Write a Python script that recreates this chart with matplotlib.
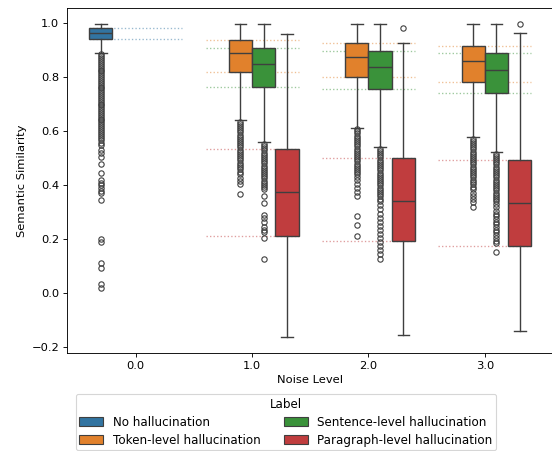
import matplotlib
matplotlib.use("Agg")
import matplotlib.pyplot as plt
from matplotlib.patches import Patch

noise_levels = ["0.0", "1.0", "2.0", "3.0"]
hue_labels = ["No hallucination", "Token-level hallucination",
              "Sentence-level hallucination", "Paragraph-level hallucination"]
hue_colors = ["#3274a1", "#e1812c", "#3a923a", "#c03d3e"]

# one entry per drawn box
box_group = [0, 1, 1, 1, 2, 2, 2, 3, 3, 3]
box_hue = [0, 1, 2, 3, 1, 2, 3, 1, 2, 3]
whislo = [0.889, 0.641, 0.560, -0.164, 0.614, 0.541, -0.155, 0.579, 0.523, -0.139]
q1 = [0.941, 0.818, 0.766, 0.210, 0.800, 0.755, 0.193, 0.781, 0.741, 0.175]
med = [0.963, 0.890, 0.848, 0.376, 0.874, 0.837, 0.343, 0.859, 0.827, 0.335]
q3 = [0.982, 0.938, 0.907, 0.533, 0.927, 0.899, 0.502, 0.917, 0.890, 0.492]
whishi = [0.998, 0.998, 0.998, 0.961, 0.998, 0.998, 0.927, 0.998, 0.998, 0.965]

fliers_none_0 = [0.885, 0.878, 0.871, 0.864, 0.857, 0.850, 0.843, 0.836, 0.829, 0.822,
                 0.815, 0.808, 0.801, 0.794, 0.787, 0.780, 0.773, 0.766, 0.759, 0.752,
                 0.745, 0.738, 0.731, 0.724, 0.717, 0.710, 0.703, 0.696, 0.689, 0.682,
                 0.675, 0.668, 0.661, 0.654, 0.647, 0.640, 0.633, 0.626, 0.619, 0.612,
                 0.605, 0.598, 0.590, 0.583, 0.575, 0.568, 0.558, 0.548, 0.530, 0.520,
                 0.505, 0.480, 0.447, 0.420, 0.410, 0.400, 0.390, 0.380, 0.372, 0.345,
                 0.200, 0.190, 0.112, 0.092, 0.033, 0.018]
fliers_token_1 = [0.636, 0.628, 0.620, 0.612, 0.604, 0.596, 0.588, 0.580, 0.572, 0.564,
                  0.556, 0.548, 0.540, 0.532, 0.524, 0.516, 0.508, 0.500, 0.492, 0.484,
                  0.476, 0.468, 0.460, 0.450, 0.440, 0.428, 0.415, 0.405, 0.368]
fliers_sent_1 = [0.553, 0.545, 0.537, 0.529, 0.521, 0.513, 0.505, 0.497, 0.489, 0.481,
                 0.473, 0.465, 0.457, 0.449, 0.441, 0.433, 0.425, 0.417, 0.409, 0.401,
                 0.393, 0.385, 0.360, 0.335, 0.290, 0.280, 0.265, 0.245, 0.235, 0.225,
                 0.205, 0.128]
fliers_para_1 = []
fliers_token_2 = [0.608, 0.600, 0.592, 0.584, 0.576, 0.568, 0.560, 0.552, 0.544, 0.536,
                  0.528, 0.520, 0.512, 0.504, 0.496, 0.488, 0.480, 0.472, 0.464, 0.456,
                  0.448, 0.440, 0.430, 0.420, 0.405, 0.390, 0.375, 0.360, 0.287, 0.251,
                  0.213]
fliers_sent_2 = [0.535, 0.527, 0.519, 0.511, 0.503, 0.495, 0.487, 0.479, 0.471, 0.463,
                 0.455, 0.447, 0.439, 0.431, 0.423, 0.415, 0.407, 0.399, 0.391, 0.383,
                 0.375, 0.367, 0.359, 0.350, 0.340, 0.325, 0.310, 0.295, 0.280, 0.265,
                 0.250, 0.235, 0.220, 0.205, 0.190, 0.175, 0.160, 0.145, 0.126]
fliers_para_2 = [0.982]
fliers_token_3 = [0.573, 0.565, 0.557, 0.549, 0.541, 0.533, 0.525, 0.517, 0.509, 0.501,
                  0.493, 0.485, 0.477, 0.469, 0.461, 0.453, 0.445, 0.437, 0.429, 0.421,
                  0.413, 0.405, 0.395, 0.385, 0.372, 0.360, 0.348, 0.336, 0.320]
fliers_sent_3 = [0.517, 0.509, 0.501, 0.493, 0.485, 0.477, 0.469, 0.461, 0.453, 0.445,
                 0.437, 0.429, 0.421, 0.413, 0.405, 0.397, 0.389, 0.381, 0.373, 0.365,
                 0.357, 0.349, 0.341, 0.330, 0.318, 0.305, 0.295, 0.285, 0.275, 0.265,
                 0.255, 0.245, 0.235, 0.225, 0.215, 0.205, 0.195, 0.186, 0.151]
fliers_para_3 = [0.999]
fliers = [fliers_none_0, fliers_token_1, fliers_sent_1, fliers_para_1,
          fliers_token_2, fliers_sent_2, fliers_para_2,
          fliers_token_3, fliers_sent_3, fliers_para_3]

hue_offsets = [-0.3, -0.1, 0.1, 0.3]
box_width = 0.2
line_color = "#3f3f3f"

plt.rcParams["font.size"] = 10.3

fig = plt.figure(figsize=(6.9, 5.6375), dpi=80)
ax = fig.add_axes([67 / 552, 1 - 353 / 451, (553.5 - 67) / 552, (353 - 8) / 451])

for i in range(len(box_group)):
    g = box_group[i]
    h = box_hue[i]
    col = hue_colors[h]
    pos = g + hue_offsets[h]
    stat = dict(whislo=whislo[i], q1=q1[i], med=med[i], q3=q3[i],
                whishi=whishi[i], fliers=fliers[i])
    ax.bxp([stat], positions=[pos], widths=box_width, patch_artist=True,
           manage_ticks=False, capwidths=box_width / 2,
           boxprops=dict(facecolor=col, edgecolor=line_color, linewidth=1.25),
           medianprops=dict(color=line_color, linewidth=1.25),
           whiskerprops=dict(color=line_color, linewidth=1.25),
           capprops=dict(color=line_color, linewidth=1.25),
           flierprops=dict(marker="o", markersize=4.8, markerfacecolor="none",
                           markeredgecolor=line_color, markeredgewidth=1.0),
           zorder=2)
    ax.hlines([q1[i], q3[i]], g - 0.4, g + 0.4, colors=col, linestyles=":",
              linewidth=1.2, alpha=0.5, zorder=1)

ax.margins(x=0.05, y=0.05)
ax.autoscale_view()
ax.set_xticks(range(len(noise_levels)))
ax.set_xticklabels(noise_levels)
ax.set_xlabel("Noise Level")
ax.set_ylabel("Semantic Similarity")

handles = [Patch(facecolor=c, edgecolor=line_color, label=l)
           for c, l in zip(hue_colors, hue_labels)]
fig.legend(handles=handles, title="Label", ncol=2, loc="upper center",
           fontsize=10.7, title_fontsize=10.7, handlelength=2.0,
           labelspacing=0.42, borderaxespad=0.0, borderpad=0.3,
           bbox_to_anchor=(286 / 552, 1 - 394 / 451))

fig.savefig("out.png", dpi=80)
